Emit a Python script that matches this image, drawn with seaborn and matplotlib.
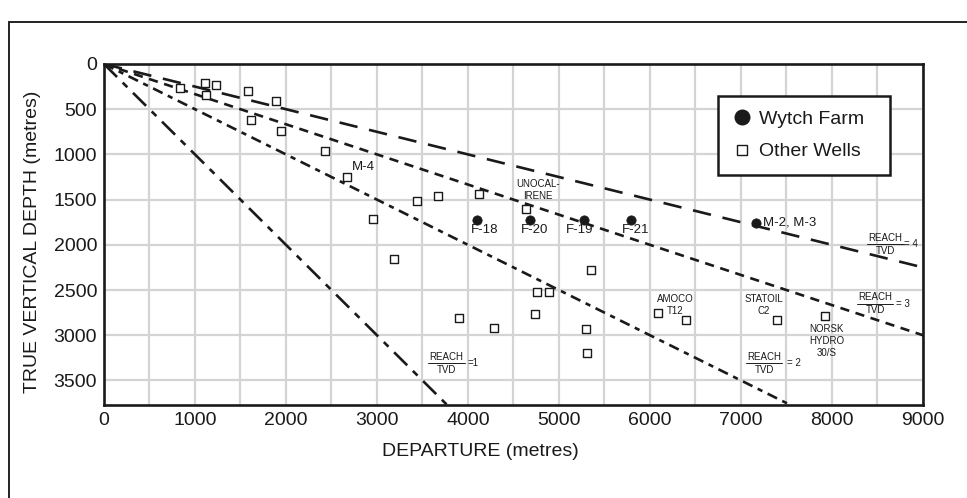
import matplotlib
matplotlib.use("Agg")
import matplotlib.pyplot as plt
from matplotlib.lines import Line2D
from matplotlib.patches import Rectangle
import numpy as np
import pandas as pd
import seaborn as sns

# Wytch Farm extended-reach wells
wytch_names = ["F-18", "F-20", "F-19", "F-21", "M-2, M-3"]
wytch_departure = [4100, 4680, 5280, 5790, 7170]
wytch_tvd = [1720, 1720, 1720, 1720, 1755]

# Other extended-reach wells worldwide
other_departure = [835, 1106, 1227, 1121, 1582, 1890, 1612, 1945, 2432, 2670,
                   3436, 3670, 2956, 4121, 4641, 3190, 5355, 4758, 4890, 4736,
                   3905, 4286, 5297, 5311, 6084, 6392, 7392, 7919]
other_tvd = [262, 207, 232, 339, 295, 406, 623, 745, 959, 1250,
             1512, 1457, 1715, 1435, 1607, 2160, 2275, 2525, 2525, 2769,
             2813, 2924, 2928, 3200, 2751, 2832, 2832, 2791]

# Reach / TVD guide ratios
reach_ratios = [1, 2, 3, 4]

x_ticks = list(range(0, 9001, 500))
x_tick_labels = [str(v) if v % 1000 == 0 else "" for v in x_ticks]
y_ticks = list(range(0, 3501, 500))
y_tick_labels = [str(v) for v in y_ticks]

wytch_df = pd.DataFrame({"departure": wytch_departure, "tvd": wytch_tvd, "name": wytch_names})
other_df = pd.DataFrame({"departure": other_departure, "tvd": other_tvd})

sns.set_theme(style="white")
plt.rcParams["font.family"] = ["Liberation Sans", "DejaVu Sans"]

fig = plt.figure(figsize=(9.67, 4.98), dpi=100)
ax = fig.add_axes([0.1075, 0.1861, 0.847, 0.6854])

ink = "#1a1a1a"

# guide lines
line_styles = {
    1: dict(dashes=(7, 3, 2.5, 3)),
    2: dict(dashes=(4, 2.2, 2, 2.2)),
    3: dict(dashes=(3.5, 2.5)),
    4: dict(dashes=(7, 4.5)),
}
depth_span = np.array([0, 4000])
for r in reach_ratios:
    ax.plot(depth_span * r, depth_span, color=ink, lw=1.9,
            **line_styles[r], zorder=2)

sns.scatterplot(data=other_df, x="departure", y="tvd", marker="s", s=40,
                color="white", edgecolor=ink, linewidth=1.0, ax=ax, zorder=3)
sns.scatterplot(data=wytch_df, x="departure", y="tvd", marker="o", s=45,
                color=ink, edgecolor=ink, linewidth=0.5, ax=ax, zorder=4)

ax.set_xlim(0, 9000)
ax.set_ylim(3775, 0)
ax.set_xticks(x_ticks)
ax.set_xticklabels(x_tick_labels)
ax.set_yticks(y_ticks)
ax.set_yticklabels(y_tick_labels)
ax.tick_params(axis="both", length=0, labelsize=14, colors=ink, pad=5)
ax.grid(True, color="#d4d4d4", lw=1.6, zorder=0)
ax.set_axisbelow(True)
for s in ax.spines.values():
    s.set_color(ink)
    s.set_linewidth(1.9)
    s.set_visible(True)

ax.set_xlabel("DEPARTURE (metres)", fontsize=14, color=ink)
ax.xaxis.set_label_coords(0.46, -0.134)
ax.xaxis.label.set_va("center")
ax.set_ylabel("TRUE VERTICAL DEPTH (metres)", fontsize=14, color=ink)
ax.yaxis.set_label_coords(-0.077, 0.48)

# well name labels
well_fs = 9.5
for name, tx, ty in [("F-18", 4179, 1839), ("F-20", 4736, 1839),
                     ("F-19", 5223, 1839), ("F-21", 5843, 1839)]:
    ax.text(tx, ty, name, ha="center", va="center", fontsize=well_fs, color=ink)
ax.text(7245, 1751, "M-2, M-3", ha="left", va="center", fontsize=well_fs, color=ink)
ax.text(2725, 1139, "M-4", ha="left", va="center", fontsize=well_fs, color=ink)

small_fs = 7
for label, tx, ty in [("UNOCAL-\nIRENE", 4766, 1396), ("AMOCO\nT12", 6275, 2660),
                      ("STATOIL\nC2", 7253, 2660), ("NORSK\nHYDRO\n30/S", 7942, 3067)]:
    ax.text(tx, ty, label, ha="center", va="center", fontsize=small_fs,
            color=ink, linespacing=1.25)

# REACH / TVD fraction labels
frac_labels = [(4, 8590, 1996, 8791, "= 4"), (3, 8473, 2649, 8703, "= 3"),
               (2, 7256, 3310, 7502, "= 2"), (1, 3766, 3310, 3997, "=1")]
for r, fx, fy, ex, etxt in frac_labels:
    ax.text(fx, fy - 68, "REACH", ha="center", va="center", fontsize=small_fs, color=ink)
    ax.text(fx, fy + 75, "TVD", ha="center", va="center", fontsize=small_fs, color=ink)
    ax.plot([fx - 200, fx + 200], [fy, fy], color=ink, lw=0.7, zorder=2)
    ax.text(ex, fy, etxt, ha="left", va="center", fontsize=small_fs, color=ink)

handles = [
    Line2D([], [], marker="o", ls="none", markersize=10.5, markerfacecolor=ink,
           markeredgecolor=ink, label="Wytch Farm  "),
    Line2D([], [], marker="s", ls="none", markersize=7.5, markerfacecolor="white",
           markeredgecolor=ink, markeredgewidth=1.0, label="Other Wells  "),
]
leg = ax.legend(handles=handles, loc="upper left", bbox_to_anchor=(0.750, 0.906),
                fontsize=14, frameon=True, fancybox=False, shadow=False,
                borderaxespad=0, handlelength=0.9, handletextpad=0.45,
                labelspacing=0.75, borderpad=0.75)
leg.get_frame().set_edgecolor(ink)
leg.get_frame().set_linewidth(1.8)
leg.get_frame().set_facecolor("white")
leg.get_frame().set_alpha(1)
for t in leg.get_texts():
    t.set_color(ink)

# outer frame around the figure
fig.patches.append(Rectangle((9 / 967, -0.2), 1.2, 0.9566 + 0.2,
                             transform=fig.transFigure, fill=False,
                             edgecolor="#222222", lw=1.4, clip_on=False))

fig.savefig("out.png", dpi=100)
